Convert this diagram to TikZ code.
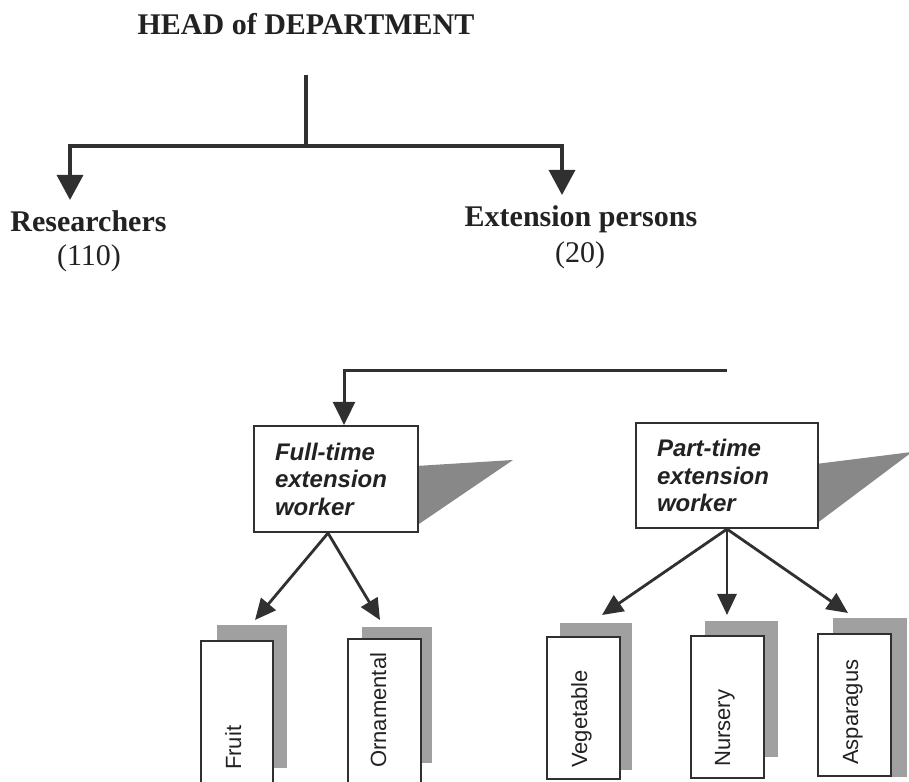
\documentclass[tikz,border=0pt]{standalone}
\usepackage{fontspec}
\setmainfont{Liberation Serif}
\setsansfont{Liberation Sans}
\usetikzlibrary{arrows.meta,patterns}
\definecolor{ink}{HTML}{303030}
\definecolor{txt}{HTML}{222222}
\definecolor{shade}{HTML}{A0A0A0}
\definecolor{shadedark}{HTML}{888888}
\tikzset{
  serifb/.style={font=\fontsize{30}{36}\selectfont\bfseries, text=txt, inner sep=0pt},
  serifr/.style={font=\fontsize{30}{36}\selectfont, text=txt, inner sep=0pt},
  conn/.style={draw=ink, line width=3.4pt},
  bigarrow/.style={conn, -{Triangle[length=25pt,width=26pt]}},
  midarrow/.style={conn, line width=3pt, -{Triangle[length=23pt,width=22pt]}},
  smallarrow/.style={draw=ink, line width=2.8pt, -{Triangle[length=21pt,width=19pt]}},
  workerbox/.style={draw=ink, line width=2.2pt, fill=white, rectangle, align=left,
    inner xsep=21pt, inner ysep=0pt, text=txt,
    font=\fontsize{24}{27.5}\selectfont\sffamily\bfseries\itshape},
  leafbox/.style={draw=ink, line width=2.2pt, fill=white, rectangle, anchor=north west, inner sep=0pt},
  leaftext/.style={rotate=90, anchor=base west, inner sep=0pt, text=txt,
    font=\fontsize{22}{26}\selectfont\sffamily},
  leafshadow/.style={fill=shade},
  tri/.style={fill=shadedark}
}
\begin{document}
\begin{tikzpicture}[x=1pt,y=1pt]
\useasboundingbox (0,0) rectangle (909,781);
\clip (0,0) rectangle (909,781);
\fill[white] (0,0) rectangle (909,781);

% top level
\node[serifb, anchor=base] (head) at (306,746) {HEAD of DEPARTMENT};
\coordinate (stem) at (306,706);
\coordinate (jc) at (306,635);
\coordinate (rtip) at (70,581);
\coordinate (etip) at (562,586);
\draw[conn] (stem) -- (jc);
\draw[bigarrow] (jc) -| (rtip);
\draw[bigarrow] (jc) -| (etip);

\node[serifb, anchor=base] (res) at (88.5,549) {Researchers};
\node[serifr, anchor=base] (resn) at (89,515) {(110)};
\node[serifb, anchor=base] (ext) at (581,554) {Extension persons};
\node[serifr, anchor=base] (extn) at (580,518) {(20)};

% shadows of worker boxes
\fill[tri] (416,315) -- (513,321) -- (416,255) -- cycle;
\fill[tri] (816,317) -- (912,329) -- (816,257) -- cycle;

% worker boxes
\node[workerbox, text width=122pt, minimum height=106pt] (full) at (336,302)
  {Full-time\\extension\\worker};
\node[workerbox, text width=140pt, minimum height=105pt] (part) at (727,305.5)
  {Part-time\\extension\\worker};

\coordinate (b2) at (727,410);
\draw[midarrow] (b2) -| ([xshift=8pt]full.north);

% leaf shadows
\fill[leafshadow] (217,156) rectangle (287,13);
\fill[leafshadow] (362,154) rectangle (432,18);
\fill[leafshadow] (560,158) rectangle (632,11);
\fill[leafshadow] (705,160) rectangle (778,24);
\fill[leafshadow] (833,163) rectangle (907,4);

% leaf boxes
\node[leafbox, minimum width=72pt, minimum height=150pt] (fruit) at (200,141) {};
\node[leafbox, minimum width=73pt, minimum height=150pt] (orn) at (347,143) {};
\node[leafbox, minimum width=73pt, minimum height=142pt] (veg) at (546,145) {};
\node[leafbox, minimum width=73pt, minimum height=142pt] (nur) at (690,146) {};
\node[leafbox, minimum width=73pt, minimum height=142pt] (asp) at (817,148) {};

\node[leaftext] (fruitt) at (241,11) {Fruit};
\node[leaftext] (ornt) at (386,13) {Ornamental};
\node[leaftext] (vegt) at (587,13) {Vegetable};
\node[leaftext] (nurt) at (730,14) {Nursery};
\node[leaftext] (aspt) at (858,16) {Asparagus};

% arrows to leaves
\coordinate (fruittip) at (255,161);
\coordinate (orntip) at (380,161);
\coordinate (vegtip) at (602,166);
\coordinate (nurtip) at (727,166);
\coordinate (asptip) at (848,168);
\draw[smallarrow] ([xshift=-8pt]full.south) -- (fruittip);
\draw[smallarrow] ([xshift=-8pt]full.south) -- (orntip);
\draw[smallarrow] (part.south) -- (vegtip);
\draw[smallarrow] (part.south) -- (nurtip);
\draw[smallarrow] (part.south) -- (asptip);
\end{tikzpicture}
\end{document}
